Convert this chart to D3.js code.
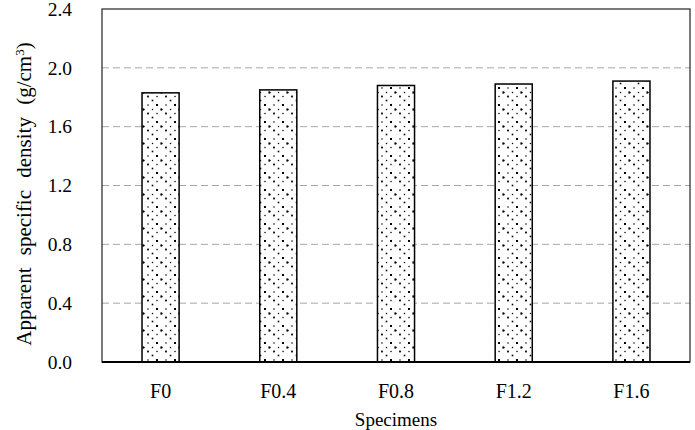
<!DOCTYPE html>
<html>
<head>
<meta charset="utf-8">
<script src="https://cdn.jsdelivr.net/npm/d3@7"></script>
<style>
  body { margin: 0; background: #fff; }
  text { font-family: "Liberation Serif", "Times New Roman", serif; fill: #000; }
</style>
</head>
<body>
<svg id="chart" width="695" height="430"></svg>
<script>
  var specimens = ["F0", "F0.4", "F0.8", "F1.2", "F1.6"];
  var density = [1.83, 1.85, 1.88, 1.89, 1.91];
  var y_ticks = [0, 0.4, 0.8, 1.2, 1.6, 2.0, 2.4];

  var plot_l = 102, plot_r = 690, plot_t = 9, plot_b = 362;

  var svg = d3.select("#chart");

  // dotted fill, like the spreadsheet pattern
  var pat = svg.append("defs").append("pattern")
    .attr("id", "dots").attr("patternUnits", "userSpaceOnUse")
    .attr("width", 18).attr("height", 17);
  pat.append("rect").attr("width", 18).attr("height", 17).attr("fill", "#fff");
  var dots = [[4, 3, 1.3], [13, 3, 2], [8.5, 7.5, 1.3], [17.5, 7.5, 2.2], [4, 11.5, 1.8], [13, 11.5, 1.3], [8.5, 15.5, 1.6], [0, 7.5, 1.4]];
  for (var i = 0; i < dots.length; i++) {
    pat.append("rect")
      .attr("x", dots[i][0] - dots[i][2] / 2).attr("y", dots[i][1] - dots[i][2] / 2)
      .attr("width", dots[i][2]).attr("height", dots[i][2])
      .attr("fill", "#000");
  }

  var x = d3.scaleBand().domain(specimens).range([plot_l, plot_r]).paddingInner(0.685).paddingOuter(0.34);
  var y = d3.scaleLinear().domain([0, 2.4]).range([plot_b, plot_t]);

  // grid
  svg.append("g").selectAll("line").data(y_ticks.slice(1, -1)).enter().append("line")
    .attr("x1", plot_l).attr("x2", plot_r)
    .attr("y1", function(d) { return y(d); }).attr("y2", function(d) { return y(d); })
    .style("stroke", "#a6a6a6").style("stroke-width", 1).style("stroke-dasharray", "7,4");

  // bars
  svg.append("g").selectAll("rect").data(specimens).enter().append("rect")
    .attr("x", function(d) { return x(d); })
    .attr("width", x.bandwidth())
    .attr("y", function(d, i) { return y(density[i]); })
    .attr("height", function(d, i) { return y(0) - y(density[i]); })
    .attr("fill", "url(#dots)")
    .style("stroke", "#000").style("stroke-width", 1.5);

  // frame
  svg.append("rect").attr("x", plot_l).attr("y", plot_t)
    .attr("width", plot_r - plot_l).attr("height", plot_b - plot_t)
    .attr("fill", "none").style("stroke", "#222").style("stroke-width", 1.2);
  svg.append("line").attr("x1", plot_l).attr("x2", plot_r).attr("y1", plot_b).attr("y2", plot_b)
    .style("stroke", "#000").style("stroke-width", 2);

  // y axis
  var yAxis = svg.append("g").attr("transform", "translate(" + plot_l + ",0)")
    .call(d3.axisLeft(y).tickValues(y_ticks).tickFormat(d3.format(".1f")).tickSize(0).tickPadding(30));
  yAxis.select(".domain").remove();
  yAxis.selectAll("text").style("font-size", "19.5px").style("font-family", "Liberation Serif");

  // x axis
  var xAxis = svg.append("g").attr("transform", "translate(0," + plot_b + ")")
    .call(d3.axisBottom(x).tickSize(0).tickPadding(22));
  xAxis.select(".domain").remove();
  xAxis.selectAll("text").style("font-size", "20px").style("font-family", "Liberation Serif");

  svg.append("text").attr("x", (plot_l + plot_r) / 2).attr("y", 426)
    .attr("text-anchor", "middle").style("font-size", "19px").text("Specimens");

  var ylab = svg.append("text")
    .attr("transform", "translate(31,194) rotate(-90)")
    .attr("text-anchor", "middle").style("font-size", "21px").style("word-spacing", "7px");
  ylab.append("tspan").text("Apparent specific density (g/cm");
  ylab.append("tspan").attr("dy", -7).style("font-size", "13px").text("3");
  ylab.append("tspan").attr("dy", 7).text(")");
</script>
</body>
</html>
